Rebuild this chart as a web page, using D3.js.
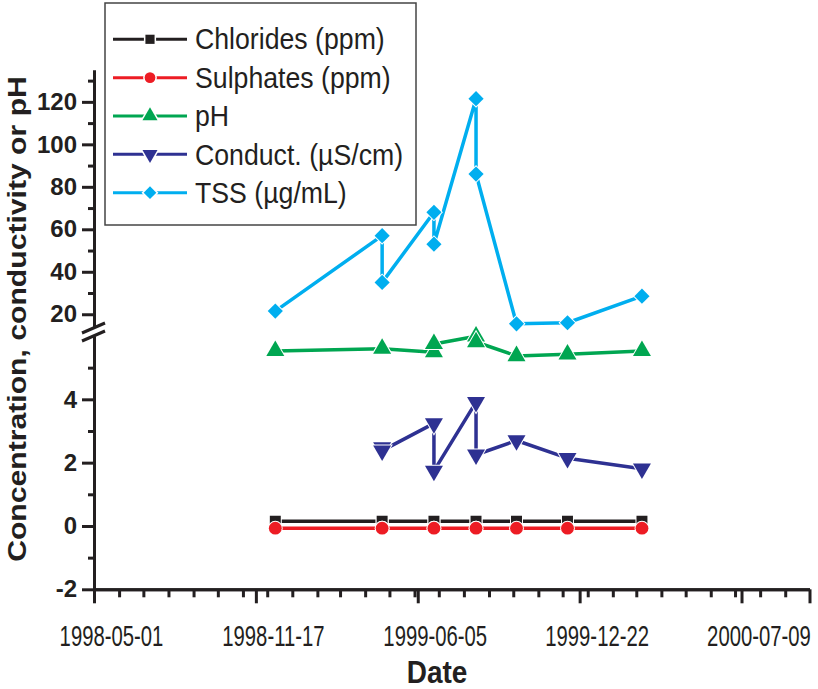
<!DOCTYPE html>
<html>
<head>
<meta charset="utf-8">
<script src="https://cdn.jsdelivr.net/npm/d3@7"></script>
<style>
body { margin: 0; background: #fff; }
text { font-family: Arial, "Liberation Sans", Helvetica, sans-serif; fill: #231f20; }
</style>
</head>
<body>
<svg id="chart" width="818" height="689"></svg>
<script>
// sampling dates, some days were sampled twice
var dates = ["1998-12-11", "1999-04-22", "1999-04-22", "1999-06-25", "1999-06-25",
             "1999-08-16", "1999-08-16", "1999-10-05", "1999-12-07", "2000-03-08"];
var chlorides = [0.15, 0.15, 0.15, 0.15, 0.15, 0.15, 0.15, 0.15, 0.15, 0.15];
var sulphates = [-0.07, -0.07, -0.07, -0.07, -0.07, -0.07, -0.07, -0.07, -0.07, -0.07];
var ph = [5.53, 5.6, 5.6, 5.49, 5.75, 5.99, 5.81, 5.37, 5.42, 5.53];
var conduct = [null, 2.48, 2.38, 3.24, 1.74, 3.91, 2.25, 2.7, 2.14, 1.81];
var tss = [21.5, 57, 35, 68, 53, 121.5, 86, 15.5, 16, 28.5];

var xMajor = ["1998-05-01", "1998-11-17", "1999-06-05", "1999-12-22", "2000-07-09"];
var xDomain = ["1998-05-01", "2000-10-01"];
var yLowMajor = [-2, 0, 2, 4], yLowMinor = [-1, 1, 3, 5];
var yHighMajor = [20, 40, 60, 80, 100, 120], yHighMinor = [30, 50, 70, 90, 110, 130];

var ink = "#231f20";
var parse = d3.utcParse("%Y-%m-%d");
var svg = d3.select("#chart");

var x = d3.scaleUtc().domain(xDomain.map(parse)).range([94, 809.5]);
var yLow = d3.scaleLinear().domain([-2, 6]).range([589.3, 336]);
var yHigh = d3.scaleLinear().domain([14, 135]).range([327, 70]);

var series = [
    {name: "Chlorides (ppm)", values: chlorides, color: "#231f20", symbol: d3.symbolSquare, size: 120, rot: 0, y: yLow},
    {name: "Sulphates (ppm)", values: sulphates, color: "#ed1c24", symbol: d3.symbolCircle, size: 130, rot: 0, y: yLow},
    {name: "pH", values: ph, color: "#00a651", symbol: d3.symbolTriangle, size: 140, rot: 0, y: yLow},
    {name: "Conduct. (\u00b5S/cm)", values: conduct, color: "#2e3192", symbol: d3.symbolTriangle, size: 140, rot: 180, y: yLow},
    {name: "TSS (\u00b5g/mL)", values: tss, color: "#00aeef", symbol: d3.symbolSquare, size: 115, rot: 45, y: yHigh}
];

function styleAxis(g) {
    g.selectAll("path, line").attr("stroke", ink).attr("stroke-width", 3);
    g.selectAll("text").attr("fill", ink);
}
var plain = function(d) { return String(d); };

// y axis, lower part
svg.append("g").attr("transform", "translate(94,0)")
    .call(d3.axisLeft(yLow).tickValues(yLowMajor).tickSize(12).tickSizeOuter(0).tickPadding(5).tickFormat(plain))
    .call(styleAxis)
    .selectAll("text").style("font-size", "24px").style("font-weight", "bold");
svg.append("g").attr("transform", "translate(94,0)")
    .call(d3.axisLeft(yLow).tickValues(yLowMinor).tickSize(6).tickSizeOuter(0).tickFormat(""))
    .call(styleAxis);

// y axis, upper part
svg.append("g").attr("transform", "translate(94,0)")
    .call(d3.axisLeft(yHigh).tickValues(yHighMajor).tickSize(12).tickSizeOuter(0).tickPadding(5).tickFormat(plain))
    .call(styleAxis)
    .selectAll("text").style("font-size", "24px").style("font-weight", "bold");
svg.append("g").attr("transform", "translate(94,0)")
    .call(d3.axisLeft(yHigh).tickValues(yHighMinor).tickSize(6).tickSizeOuter(0).tickFormat(""))
    .call(styleAxis);

// axis break marks
var bTop = yHigh.range()[0];
[0, 8].forEach(function(off) {
    svg.append("line")
        .attr("x1", 82).attr("y1", bTop + 6 + off)
        .attr("x2", 105).attr("y2", bTop - 4 + off)
        .attr("stroke", ink).attr("stroke-width", 3);
});

// x axis
var yBase = yLow(-2);
var fmt = d3.utcFormat("%Y-%m-%d");
svg.append("g").attr("transform", "translate(0," + yBase + ")")
    .call(d3.axisBottom(x).tickValues(d3.utcMonth.range(x.domain()[0], x.domain()[1])).tickSize(8).tickSizeOuter(0).tickFormat(""))
    .call(styleAxis);
svg.append("g").attr("transform", "translate(0," + yBase + ")")
    .call(d3.axisBottom(x).tickValues(xMajor.map(parse).concat([x.domain()[1]])).tickSize(14).tickSizeOuter(0).tickPadding(22)
        .tickFormat(function(d) { return +d === +x.domain()[1] ? "" : fmt(d); }))
    .call(styleAxis)
    .selectAll("text").style("font-size", "29px").attr("transform", "translate(17,0) scale(0.70,1)");

// series lines and markers
var plot = svg.append("g");
series.forEach(function(s) {
    var pts = dates.map(function(d, i) { return {date: parse(d), v: s.values[i]}; })
        .filter(function(p) { return p.v != null; });
    var line = d3.line().x(function(p) { return x(p.date); }).y(function(p) { return s.y(p.v); });
    plot.append("path").datum(pts)
        .attr("d", line).attr("fill", "none")
        .attr("stroke", s.color).attr("stroke-width", 3.5).attr("stroke-linejoin", "round");
    plot.selectAll(null).data(pts).enter().append("path")
        .attr("d", d3.symbol().type(s.symbol).size(s.size))
        .attr("transform", function(p) { return "translate(" + x(p.date) + "," + s.y(p.v) + ") rotate(" + s.rot + ")"; })
        .attr("fill", s.color).attr("stroke", "#fff").attr("stroke-width", 2)
        .style("paint-order", "stroke");
});

// legend
var legend = svg.append("g");
legend.append("rect").attr("x", 105).attr("y", 3).attr("width", 311).attr("height", 222)
    .attr("fill", "#fff").attr("stroke", "#444").attr("stroke-width", 1.5);
var rows = legend.selectAll("g.row").data(series).enter().append("g")
    .attr("transform", function(s, i) { return "translate(0," + (39.3 + i * 38.35) + ")"; });
rows.append("line").attr("x1", 113).attr("x2", 187)
    .attr("stroke", function(s) { return s.color; }).attr("stroke-width", 3);
rows.append("path")
    .attr("d", function(s) { return d3.symbol().type(s.symbol).size(s.size * 0.7)(); })
    .attr("transform", function(s) { return "translate(150,0) rotate(" + s.rot + ")"; })
    .attr("fill", function(s) { return s.color; }).attr("stroke", "#fff").attr("stroke-width", 3)
    .style("paint-order", "stroke");
rows.append("text").attr("transform", "translate(195,0) scale(0.92,1)").attr("dy", "0.35em").style("font-size", "29px")
    .text(function(s) { return s.name; });

// axis titles
svg.append("text").attr("transform", "translate(26,319) rotate(-90) scale(1.16,1)")
    .attr("text-anchor", "middle").style("font-size", "26px").style("font-weight", "bold")
    .text("Concentration, conductivity or pH");
svg.append("text").attr("transform", "translate(437,683) scale(1,1.12)").attr("text-anchor", "middle")
    .style("font-size", "28px").style("font-weight", "bold").text("Date");
</script>
</body>
</html>
